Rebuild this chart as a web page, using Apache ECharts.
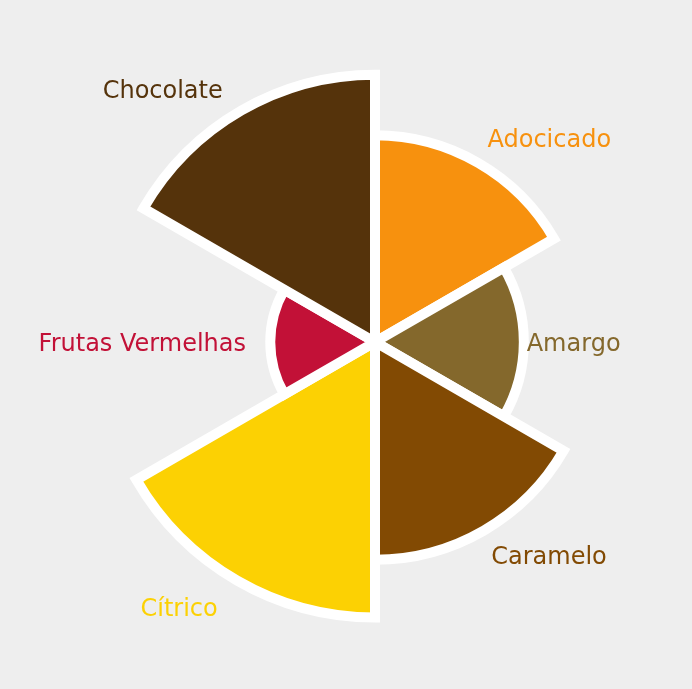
<!DOCTYPE html>
<html><head><meta charset="utf-8">
<script src="https://cdn.jsdelivr.net/npm/echarts@6/dist/echarts.min.js"></script>
<style>html,body{margin:0;padding:0;background:#eeeeee}#c{width:692px;height:689px}</style>
</head><body><div id="c"></div>
<script>
// Data
const categories = ['Adocicado', 'Amargo', 'Caramelo', 'Cítrico', 'Frutas Vermelhas', 'Chocolate'];
const values = [7.5, 5.4, 7.9, 10, 3.8, 9.7];

// Styles
const colors = ['#F7910E', '#84682C', '#824A03', '#FCD103', '#C21137', '#55330B'];
const labelLen = [-40.6, -123.9, -29.1, 31, -146.6, 15.7];
const labelLen2 = [-5, 0, -7, 4, 0, 6.6];

const chart = echarts.init(document.getElementById('c'), null, {renderer: 'canvas'});
chart.setOption({
  backgroundColor: '#eeeeee',
  animation: false,
  series: [{
    type: 'pie',
    roseType: 'area',
    center: [375, 342],
    radius: ['0%', '80%'],
    startAngle: 90,
    clockwise: true,
    avoidLabelOverlap: false,
    itemStyle: {borderColor: '#ffffff', borderWidth: 10, borderJoin: 'miter'},
    label: {
      show: true,
      position: 'outside',
      fontFamily: 'DejaVu Sans',
      fontSize: 24,
      distanceToLabelLine: 0
    },
    labelLayout: {dy: 2.5},
    labelLine: {show: false},
    emphasis: {disabled: true},
    data: categories.map((name, i) => ({
      name: name,
      value: values[i],
      itemStyle: {color: colors[i]},
      label: {color: colors[i]},
      labelLine: {length: labelLen[i], length2: labelLen2[i], show: false}
    }))
  }]
});
</script>
</body></html>
